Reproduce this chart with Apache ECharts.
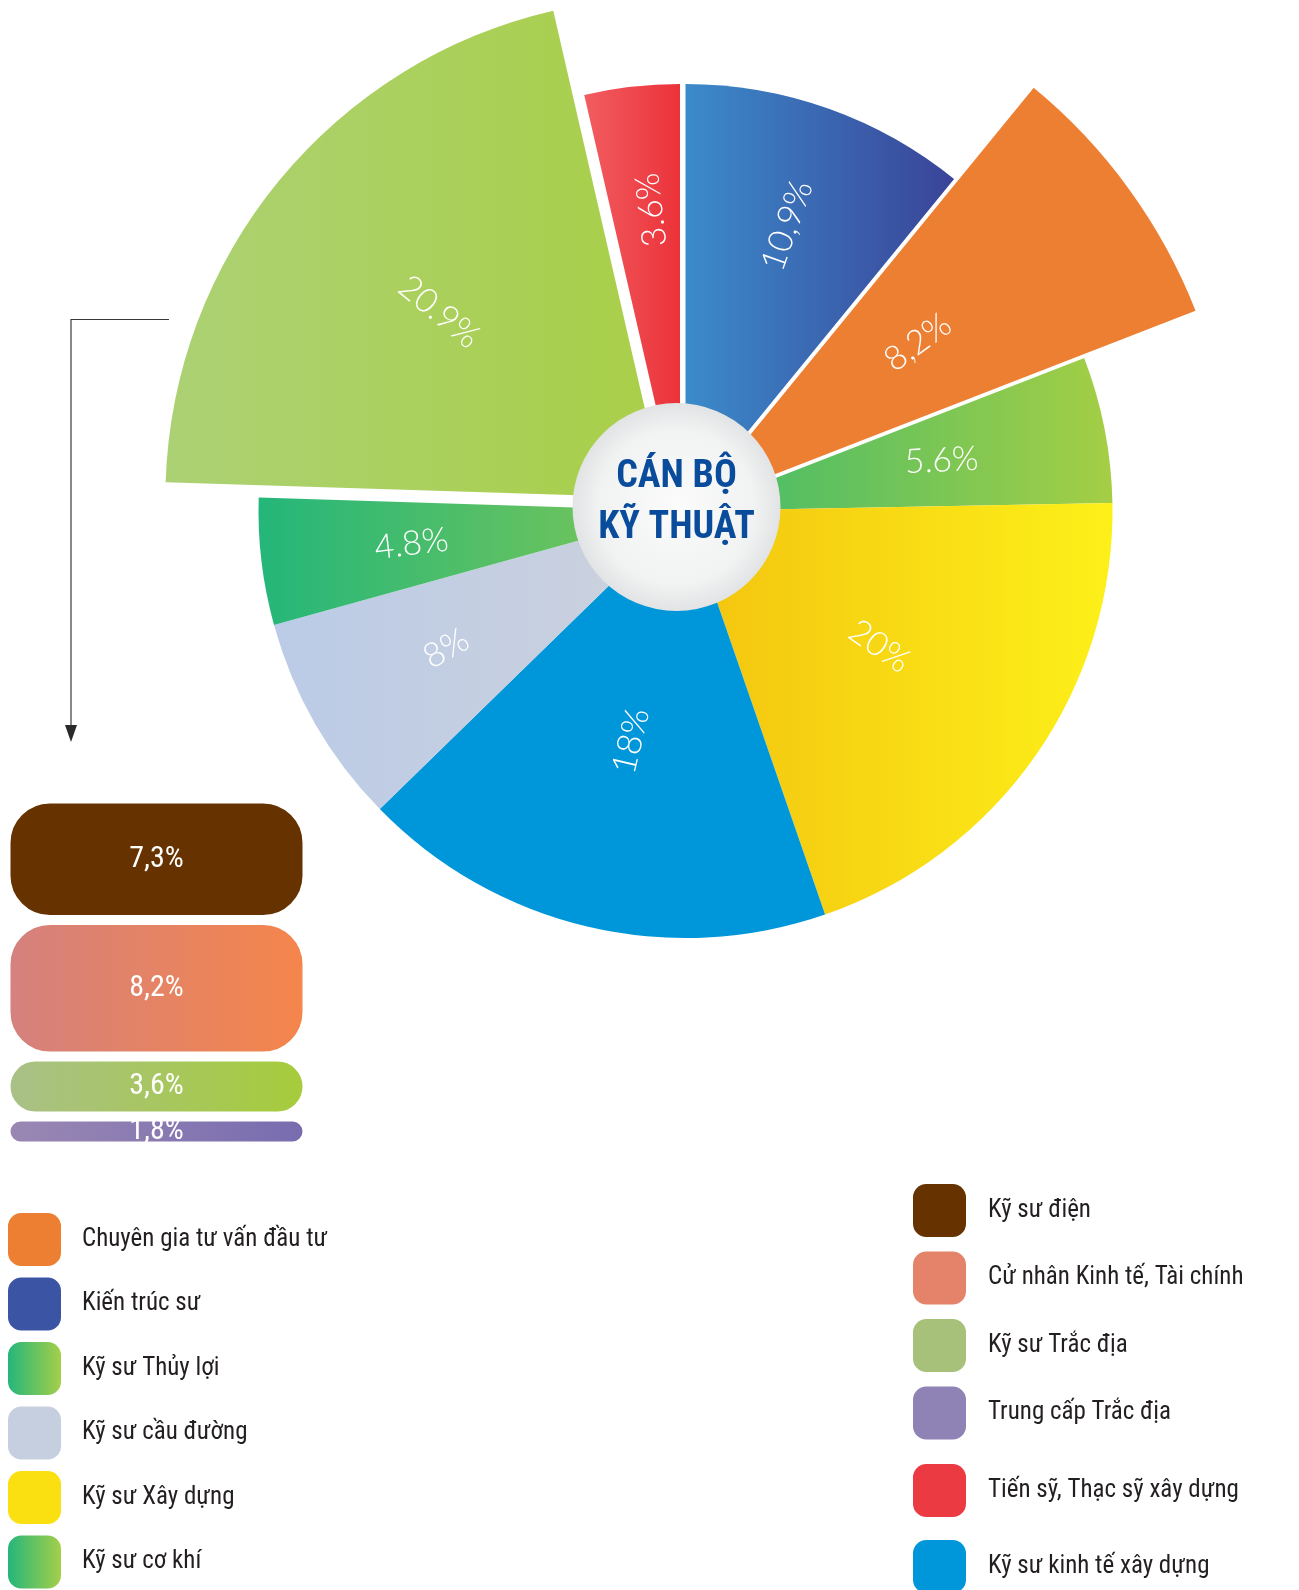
<!DOCTYPE html>
<html>
<head>
<meta charset="utf-8">
<script src="https://cdn.jsdelivr.net/npm/echarts@6/dist/echarts.min.js"></script>
<style>
  html, body { margin: 0; padding: 0; background: #fff; }
  #chart { width: 1299px; height: 1590px; }
</style>
</head>
<body>
<div id="chart"></div>
<script>
// pie slices, clockwise from 12 o'clock
const categories = ['Kiến trúc sư', 'Chuyên gia tư vấn đầu tư', 'Kỹ sư Thủy lợi', 'Kỹ sư Xây dựng',
  'Kỹ sư kinh tế xây dựng', 'Kỹ sư cầu đường', 'Kỹ sư cơ khí', 'Nhóm khác', 'Tiến sỹ, Thạc sỹ xây dựng']
const shares = [10.9, 8.2, 5.6, 20, 18, 8, 4.8, 20.9, 3.6]
const shareLabels = ['10,9%', '8,2%', '5.6%', '20%', '18%', '8%', '4.8%', '20.9%', '3.6%']

// breakdown of the 20.9% slice
const otherNames = ['Kỹ sư điện', 'Cử nhân Kinh tế, Tài chính', 'Kỹ sư Trắc địa', 'Trung cấp Trắc địa']
const otherShares = [7.3, 8.2, 3.6, 1.8]
const otherLabels = ['7,3%', '8,2%', '3,6%', '1,8%']

const leftLegend = ['Chuyên gia tư vấn đầu tư', 'Kiến trúc sư', 'Kỹ sư Thủy lợi', 'Kỹ sư cầu đường', 'Kỹ sư Xây dựng', 'Kỹ sư cơ khí']
const rightLegendTop = ['Kỹ sư điện', 'Cử nhân Kinh tế, Tài chính', 'Kỹ sư Trắc địa', 'Trung cấp Trắc địa']
const rightLegendBottom = ['Tiến sỹ, Thạc sỹ xây dựng', 'Kỹ sư kinh tế xây dựng']

const narrow = "'Liberation Sans Narrow', 'Roboto Condensed', 'DejaVu Sans Condensed', 'Arial Narrow', sans-serif"
const grad = (a, b) => new echarts.graphic.LinearGradient(0, 0, 1, 0, [
  { offset: 0, color: a }, { offset: 1, color: b }])

const sliceColors = [
  grad('#3b8bca', '#3a4398'), '#ed7f32', grad('#3dba6c', '#a5ce45'), grad('#f3c40f', '#fdf019'),
  '#0096da', grad('#bbcbe7', '#cdd2dc'), grad('#24b67a', '#80c755'), grad('#acd174', '#a9cf48'),
  grad('#f15d61', '#eb3239')
]
const legendColors = {
  'Chuyên gia tư vấn đầu tư': '#ed7f32',
  'Kiến trúc sư': '#3b54a3',
  'Kỹ sư Thủy lợi': grad('#25b67a', '#a5cf4a'),
  'Kỹ sư cầu đường': '#c5cfe0',
  'Kỹ sư Xây dựng': '#fbe011',
  'Kỹ sư cơ khí': grad('#25b67a', '#a5cf4a'),
  'Kỹ sư điện': '#663300',
  'Cử nhân Kinh tế, Tài chính': '#e4836a',
  'Kỹ sư Trắc địa': '#a8c17a',
  'Trung cấp Trắc địa': '#8f82b4',
  'Tiến sỹ, Thạc sỹ xây dựng': '#ec3a43',
  'Kỹ sư kinh tế xây dựng': '#0096da'
}
const barColors = ['#663300', grad('#d4817f', '#f5854a'), grad('#a9c088', '#a6cc3a'), grad('#9a88b3', '#786cb0')]

const C = [685.5, 511]
const C_GREEN = [665.4, 498]
const C_RED = [680, 511]
const CLEAR = 'rgba(0,0,0,0)'
// fixed label angles where the artwork departs from a radial label
const fixedRotate = { 2: 3, 8: 96.5 }

// slice shapes (no labels)
function shapePie(center, outer, show, z, border) {
  return {
    type: 'pie', center, radius: [0, outer], startAngle: 90, silent: true, z,
    avoidLabelOverlap: false, label: { show: false }, labelLine: { show: false },
    data: shares.map((v, i) => ({
      name: categories[i], value: v,
      itemStyle: show.includes(i)
        ? { color: sliceColors[i], borderColor: '#fff', borderWidth: border }
        : { color: CLEAR, borderWidth: 0 }
    }))
  }
}
// transparent rings that only carry the percentage labels
function labelPie(center, radius, show) {
  return {
    type: 'pie', center, radius, startAngle: 90, silent: true, z: 20,
    avoidLabelOverlap: false, labelLine: { show: false },
    data: shares.map((v, i) => ({
      name: categories[i], value: v,
      itemStyle: { color: CLEAR, borderWidth: 0 },
      label: {
        show: show.includes(i), position: 'inside', rotate: fixedRotate[i] !== undefined ? fixedRotate[i] : 'radial',
        formatter: shareLabels[i], color: '#fff', fontFamily: 'Lato', fontWeight: 300, fontSize: 34
      }
    }))
  }
}

function legendBox(left, top, gap, textGap, names) {
  return {
    left, top, itemGap: gap, orient: 'vertical', icon: 'roundRect', itemWidth: 53, itemHeight: 53,
    selectedMode: false, padding: 0, height: 420,
    textStyle: { fontFamily: narrow, fontSize: 25, color: '#231f20', padding: [0, 0, 0, textGap] },
    data: names.map(n => ({ name: n, itemStyle: { color: legendColors[n], borderWidth: 0 } }))
  }
}

const chart = echarts.init(document.getElementById('chart'))
chart.setOption({
  animation: false,
  legend: [
    legendBox(8, 1213, 11.5, 16, leftLegend),
    legendBox(913, 1184, 14.5, 17, rightLegendTop),
    legendBox(913, 1464, 23, 17, rightLegendBottom)
  ],
  grid: { left: 5.5, top: 798.5, width: 302, height: 348 },
  xAxis: { type: 'category', data: ['Nhóm khác'], show: false },
  yAxis: { type: 'value', inverse: true, min: 0, max: 20.9, show: false },
  series: [
    shapePie(C, 427, [0, 2, 3, 4, 5, 6], 2, 0),
    shapePie(C, 550, [1], 3, 4),
    shapePie(C_GREEN, 500, [7], 3, 0),
    shapePie(C_RED, 427, [8], 3, 0),
    labelPie(C, [173, 427], [0, 8]),
    labelPie(C, [119, 427], [5, 6]),
    labelPie(C, [89, 427], [2]),
    labelPie(C, [40, 427], [3, 4]),
    labelPie(C, [18, 550], [1]),
    labelPie(C_GREEN, [80, 500], [7])
  ].concat(otherNames.map((n, i) => ({
    type: 'bar', name: n, stack: 'khac', barWidth: '100%', silent: true,
    data: [otherShares[i]],
    itemStyle: { color: barColors[i], borderColor: '#fff', borderWidth: 5, borderRadius: 42 },
    label: { show: true, position: 'inside', formatter: otherLabels[i], color: '#fff', fontFamily: narrow, fontSize: 30 }
  }))),
  graphic: [
    {
      type: 'polyline', z: 50, shape: { points: [[169, 319.5], [71, 319.5], [71, 730]] },
      style: { stroke: '#3a3a3a', lineWidth: 1.2, fill: null }
    },
    { type: 'polygon', z: 50, shape: { points: [[65, 725], [77, 725], [71, 742]] }, style: { fill: '#2a2a2a' } },
    {
      type: 'circle', z: 100, shape: { cx: 676.5, cy: 507, r: 104 },
      style: {
        fill: new echarts.graphic.RadialGradient(0.5, 0.5, 0.5, [
          { offset: 0, color: '#fbfbfb' }, { offset: 0.75, color: '#f1f2f2' }, { offset: 1, color: '#e2e3e4' }])
      }
    },
    {
      type: 'text', z: 101, x: 676.5, y: 477,
      style: { text: 'CÁN BỘ', align: 'center', verticalAlign: 'middle', fill: '#0a4c9c', fontFamily: narrow, fontWeight: 'bold', fontSize: 38 }
    },
    {
      type: 'text', z: 101, x: 676.5, y: 528,
      style: { text: 'KỸ THUẬT', align: 'center', verticalAlign: 'middle', fill: '#0a4c9c', fontFamily: narrow, fontWeight: 'bold', fontSize: 38 }
    }
  ]
})
</script>
</body>
</html>
